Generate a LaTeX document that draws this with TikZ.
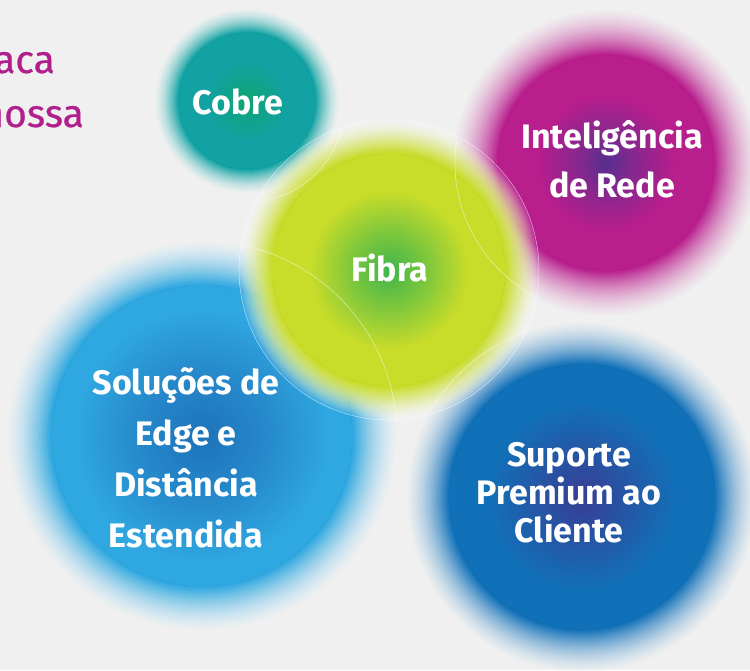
\documentclass[tikz,border=0pt]{standalone}
\usepackage{fontspec}
\setmainfont{Fira Sans}
\newfontfamily\topfont{Fira Sans}[FakeBold=0.6]

\definecolor{bgc}{HTML}{F0F0F0}
\definecolor{magtext}{HTML}{B01F8C}
\definecolor{cobC}{HTML}{0FA36E}
\definecolor{cobO}{HTML}{12A2A3}
\definecolor{fibC}{HTML}{3FB54B}
\definecolor{fibM}{HTML}{C8DC2A}
\definecolor{intC}{HTML}{55308F}
\definecolor{intO}{HTML}{B81E8C}
\definecolor{solC}{HTML}{1E72BA}
\definecolor{solO}{HTML}{2FA7E0}
\definecolor{supC}{HTML}{383D94}
\definecolor{supO}{HTML}{1171B8}

% the circle edge lies at 25bp of a path shading
\pgfdeclareradialshading{cobshade}{\pgfpoint{0bp}{0bp}}{color(0bp)=(cobC); color(5bp)=(cobC!60!cobO); color(15bp)=(cobO); color(50bp)=(cobO)}
\pgfdeclareradialshading{fibshade}{\pgfpoint{0bp}{0bp}}{color(0bp)=(fibC); color(8bp)=(fibC!55!fibM); color(17bp)=(fibM); color(50bp)=(fibM)}
\pgfdeclareradialshading{intshade}{\pgfpoint{0bp}{0bp}}{color(0bp)=(intC); color(6bp)=(intC!55!intO); color(16bp)=(intO); color(50bp)=(intO)}
\pgfdeclareradialshading{solshade}{\pgfpoint{0bp}{0bp}}{color(0bp)=(solC); color(11bp)=(solC!55!solO); color(21bp)=(solO); color(50bp)=(solO)}
\pgfdeclareradialshading{supshade}{\pgfpoint{0bp}{0bp}}{color(0bp)=(supC); color(8bp)=(supC!55!supO); color(18bp)=(supO); color(50bp)=(supO)}

% soft-edged disc: #1 cx, #2 cy, #3 solid radius, #4 outer radius,
% #5 core shading, #6 rim colour, #7 curve of the colour mix, #8 whitest mix at the rim
\newcommand{\softdisc}[8]{%
  \foreach \k in {0,...,23}{%
    \pgfmathsetmacro{\hr}{#4-(#4-#3)*\k/24}%
    \pgfmathsetmacro{\xa}{\k/24}%
    \pgfmathsetmacro{\xb}{(\k+1)/24}%
    \pgfmathsetmacro{\Aa}{1-(1-\xa)*(1-\xa)}%
    \pgfmathsetmacro{\Ab}{1-(1-\xb)*(1-\xb)}%
    \pgfmathsetmacro{\ha}{min(1,(\Ab-\Aa)/(1-\Aa))}%
    \pgfmathtruncatemacro{\hp}{#8+(100-#8)*(\k/23)^#7}%
    \fill[#6!\hp!white, fill opacity=\ha] (#1,#2) circle[radius=\hr];
  }%
  \fill[shading=#5] (#1,#2) circle[radius=#3];
  \draw[#6, line width=0.8pt] (#1,#2) circle[radius=#3];
}

\begin{document}
\begin{tikzpicture}[x=1pt,y=-1pt,
  label/.style={text=white,font=\bfseries\fontsize{34}{50}\selectfont,align=center,inner sep=0pt},
  toptext/.style={text=magtext,font=\topfont\fontsize{39}{54}\selectfont,inner sep=0pt},
  rim/.style={draw=white,draw opacity=0.6,line width=0.5pt}]
\useasboundingbox (0,0) rectangle (750,670);
\clip (0,0) rectangle (750,670);
\fill[bgc] (0,0) rectangle (750,670);

% circles
\softdisc{247}{101}{68}{92}{cobshade}{cobO}{1}{25}
\softdisc{606}{163}{107}{153}{intshade}{intO}{1}{25}
\softdisc{202}{436}{150}{194}{solshade}{solO}{1}{25}
\softdisc{582}{497}{132}{175}{supshade}{supO}{1}{25}
\softdisc{389}{270}{116}{150}{fibshade}{fibM}{0.6}{0}

% faint outlines, visible over Fibra
\draw[rim] (389,270) circle[radius=150];
\begin{scope}
  \clip (389,270) circle[radius=150];
  \draw[rim] (247,104) circle[radius=98];
  \draw[rim] (606,163) circle[radius=151];
  \draw[rim] (202,436) circle[radius=195];
  \draw[rim] (582,497) circle[radius=174];
\end{scope}

% labels
\node[label] (cobre) at (238,101.5) {Cobre};
\node[label] (fibra) at (390,267.5) {Fibra};
\node[label,font=\bfseries\fontsize{34}{49}\selectfont] (intel) at (612,159) {Inteligência\\de Rede};
\node[label,font=\bfseries\fontsize{34}{51}\selectfont] (solu) at (186,458) {Soluções de\\Edge e\\Distância\\Estendida};
\node[label,font=\bfseries\fontsize{34}{38}\selectfont] (supo) at (569,493) {Suporte\\Premium ao\\Cliente};

\node[toptext,anchor=base east] (t1) at (55,73) {aca};
\node[toptext,anchor=base east] (t2) at (84,127) {nossa};
\end{tikzpicture}
\end{document}
